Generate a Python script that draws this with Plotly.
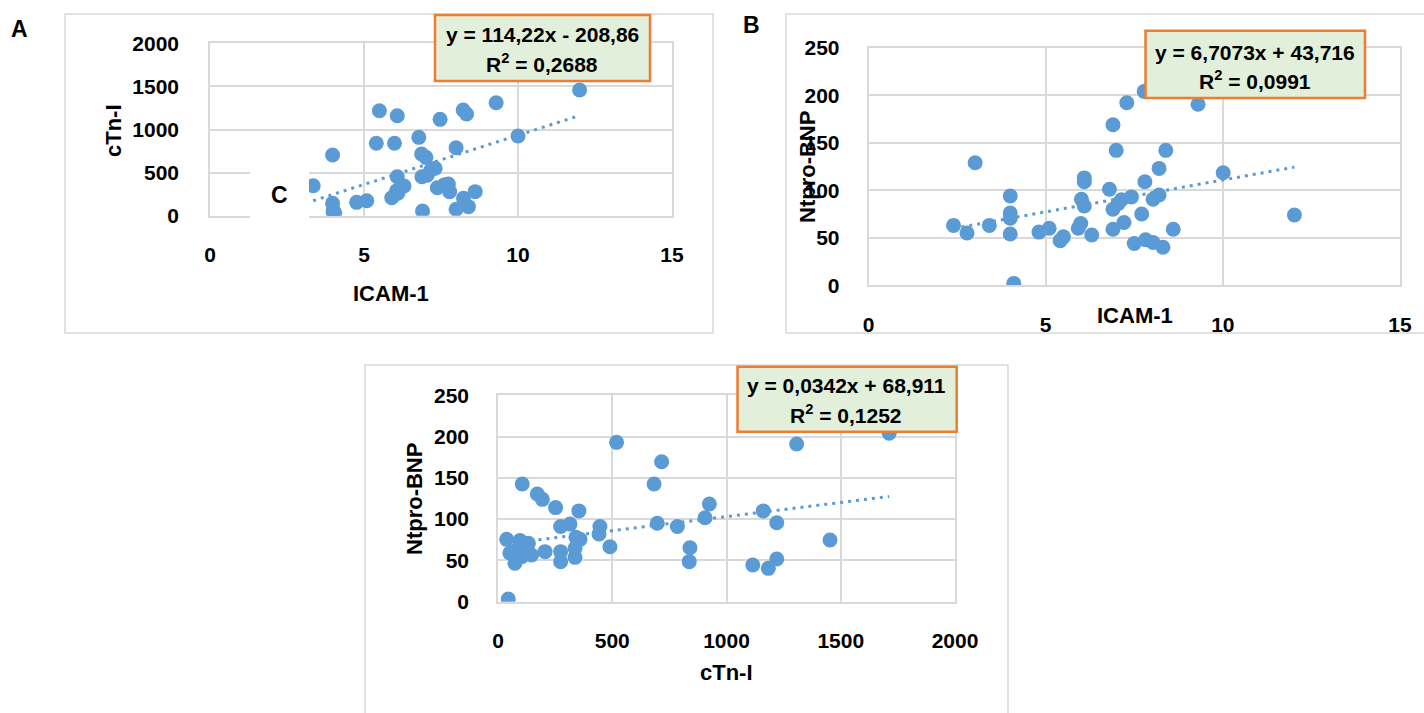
import plotly.graph_objects as go

W, H = 1424, 713

# ---------------- data ----------------
# Panel A: ICAM-1 vs cTn-I
a_icam = [3.35, 3.98, 3.98, 4.0, 4.0, 4.05, 4.76, 5.09, 5.5, 5.4, 6.08, 5.99, 6.78, 6.87,
          7.01, 6.08, 6.3, 6.06, 5.9, 6.1, 6.88, 7.17, 7.31, 7.05, 6.9, 7.47, 8.22, 8.33,
          9.29, 7.99, 10.0, 12.0, 7.38, 7.74, 7.78, 8.23, 8.39, 7.99, 8.61, 7.62]
a_ctni = [348, 704, 144, 66, 40, 30, 155, 174, 1218, 840, 1160, 840, 909, 716,
          677, 452, 345, 290, 209, 260, 452, 530, 550, 470, 54, 1118, 1226, 1180,
          1311, 789, 925, 1458, 325, 368, 279, 201, 105, 74, 279, 360]
a_slope, a_intercept = 114.22, -208.86

# Panel B: ICAM-1 vs Ntpro-BNP
b_icam = [2.40, 2.78, 3.01, 3.41, 4.0, 4.0, 4.0, 4.0, 4.1, 4.81, 5.1, 5.41, 5.5, 5.92,
          5.99, 6.09, 6.09, 6.01, 6.09, 6.30, 6.80, 6.9, 6.99, 6.9, 6.9, 7.05, 7.14, 7.21,
          7.29, 7.42, 7.50, 7.71, 7.78, 7.8, 7.82, 8.03, 8.03, 8.2, 8.2, 8.39, 8.31, 8.6,
          9.3, 10.01, 12.02]
b_bnp = [63, 55, 129, 63, 94, 76, 70.5, 54, 2, 56, 60, 47, 51, 60,
         65, 113, 109, 90.5, 83.5, 53, 101, 169, 142, 80, 59, 86, 90, 66,
         192, 93, 44, 75, 204, 109, 48, 45, 90.5, 95, 123, 142, 40, 59,
         190.5, 118.5, 74]
b_slope, b_intercept = 6.7073, 43.716

# Panel C: cTn-I vs Ntpro-BNP
c_ctni = [45, 38, 52, 74, 96, 82, 133, 147, 104, 206, 106, 172, 194, 252, 274, 315,
          274, 274, 354, 359, 337, 337, 446, 442, 490, 519, 683, 716, 697, 785, 840,
          837, 906, 925, 1115, 1161, 1183, 1220, 1220, 1307, 1453, 1712, 126, 341]
c_bnp = [3.3, 75.5, 59, 46.5, 74, 62.6, 70.7, 56.6, 54.5, 60.6, 142.6, 130.4, 124, 114, 91, 94,
         60.6, 48.4, 110, 75.5, 64.6, 53.7, 91, 82, 66.6, 193, 142.6, 169.6, 95, 91, 65.4,
         48.5, 101.7, 118.3, 44.5, 110, 40.4, 95.7, 51.7, 191, 74.7, 204, 66.6, 78]
c_slope, c_intercept = 0.0342, 68.911

eq_a = ["y = 114,22x - 208,86", "R<sup>2</sup> = 0,2688"]
eq_b = ["y = 6,7073x + 43,716", "R<sup>2</sup> = 0,0991"]
eq_c = ["y = 0,0342x + 68,911", "R<sup>2</sup> = 0,1252"]

a_xticks = [0, 5, 10, 15]
a_yticks = [0, 500, 1000, 1500, 2000]
b_xticks = [0, 5, 10, 15]
b_yticks = [0, 50, 100, 150, 200, 250]
c_xticks = [0, 500, 1000, 1500, 2000]
c_yticks = [0, 50, 100, 150, 200, 250]

# ---------------- styling ----------------
FONT = "Liberation Sans, Arial, sans-serif"
BLUE = "#5B9BD5"
GRID = "#D9D9D9"
TICK_SIZE = 21


def px(x):
    return x / W


def py(y):
    return 1 - y / H


fig = go.Figure()


def add_panel(xs, ys, slope, intercept, xa, ya):
    xmin, xmax = min(xs), max(xs)
    fig.add_trace(go.Scatter(
        x=[xmin, xmax], y=[slope * xmin + intercept, slope * xmax + intercept],
        mode="lines", line=dict(color=BLUE, width=3, dash="3px,5px"),
        xaxis=xa, yaxis=ya, hoverinfo="skip", showlegend=False))
    fig.add_trace(go.Scatter(
        x=xs, y=ys, mode="markers",
        marker=dict(color=BLUE, size=15, line=dict(width=0)),
        xaxis=xa, yaxis=ya, showlegend=False))


add_panel(a_icam, a_ctni, a_slope, a_intercept, "x", "y")
add_panel(b_icam, b_bnp, b_slope, b_intercept, "x2", "y2")
add_panel(c_ctni, c_bnp, c_slope, c_intercept, "x3", "y3")


def axis(domain, rng, ticks, standoff, anchor):
    return dict(
        domain=domain, range=rng, tickvals=ticks, ticktext=[str(t) for t in ticks],
        showgrid=True, gridcolor=GRID, gridwidth=1.5, zeroline=False,
        showline=True, mirror=True, linecolor=GRID, linewidth=1.5,
        ticks="", ticklabelstandoff=standoff, anchor=anchor, fixedrange=True,
        automargin=False,
        tickfont=dict(family=FONT, size=TICK_SIZE, color="#000000", weight="bold"))


fig.update_layout(
    width=W, height=H, autosize=False,
    margin=dict(l=0, r=0, t=0, b=0, pad=0, autoexpand=False),
    showlegend=False,
    paper_bgcolor="white", plot_bgcolor="white",
    xaxis=axis([px(210), px(672)], [0, 15], a_xticks, 19, "y"),
    yaxis=axis([py(215.7), py(43.3)], [0, 2000], a_yticks, 25, "x"),
    xaxis2=axis([px(868.5), px(1400)], [0, 15], b_xticks, 20, "y2"),
    yaxis2=axis([py(285.3), py(47.7)], [0, 250], b_yticks, 23, "x2"),
    xaxis3=axis([px(498), px(955)], [0, 2000], c_xticks, 19, "y3"),
    yaxis3=axis([py(601.7), py(395.3)], [0, 250], c_yticks, 23, "x3"),
)

shapes = []
# panel frames
for (x0, y0, x1, y1) in [(65, 14, 713, 333), (786, 14, 1430, 333), (365, 365, 1008, 720)]:
    shapes.append(dict(type="rect", xref="paper", yref="paper",
                       x0=px(x0), x1=px(x1), y0=py(y1), y1=py(y0),
                       line=dict(color=GRID, width=1.5), fillcolor="rgba(0,0,0,0)",
                       layer="below"))
# white patch with the misplaced "C" label inside panel A
shapes.append(dict(type="rect", xref="paper", yref="paper",
                   x0=px(250), x1=px(309), y0=py(218), y1=py(172),
                   line=dict(width=0), fillcolor="white", layer="above"))
# equation boxes
for (x0, y0, x1, y1) in [(435, 15, 650, 81), (1145.5, 30.7, 1365, 98), (737.5, 366.7, 956.7, 431.7)]:
    shapes.append(dict(type="rect", xref="paper", yref="paper",
                       x0=px(x0), x1=px(x1), y0=py(y1), y1=py(y0),
                       line=dict(color="#ED7D31", width=2.5), fillcolor="#E2EFDA",
                       layer="above"))
fig.update_layout(shapes=shapes)

ann = []


def text(x, y, s, size=21, angle=0):
    ann.append(dict(x=px(x), y=py(y), xref="paper", yref="paper", text=s,
                    showarrow=False, xanchor="center", yanchor="middle", textangle=angle,
                    font=dict(family=FONT, size=size, color="#000000", weight="bold")))


# panel letters
text(19, 29, "A", 23)
text(752, 25, "B", 23)
text(279, 195, "C", 23)
# axis titles
text(114, 131, "cTn-I", 22, -90)
text(391, 293, "ICAM-1", 22)
text(808, 167, "Ntpro-BNP", 22, -90)
text(1135, 315, "ICAM-1", 22)
text(415, 499, "Ntpro-BNP", 22, -90)
text(726, 672, "cTn-I", 22)
# equations
text(542, 34, eq_a[0], 21)
text(542, 63, eq_a[1], 21)
text(1255, 52, eq_b[0], 21)
text(1255, 80, eq_b[1], 21)
text(846, 385, eq_c[0], 21)
text(846, 414, eq_c[1], 21)
fig.update_layout(annotations=ann)

fig.write_html(
    "out.html",
    config={"displayModeBar": False},
    post_script="document.documentElement.style.margin='0';"
                "document.documentElement.style.overflow='hidden';"
                "document.body.style.margin='0';"
                "document.body.style.overflow='hidden';",
)
